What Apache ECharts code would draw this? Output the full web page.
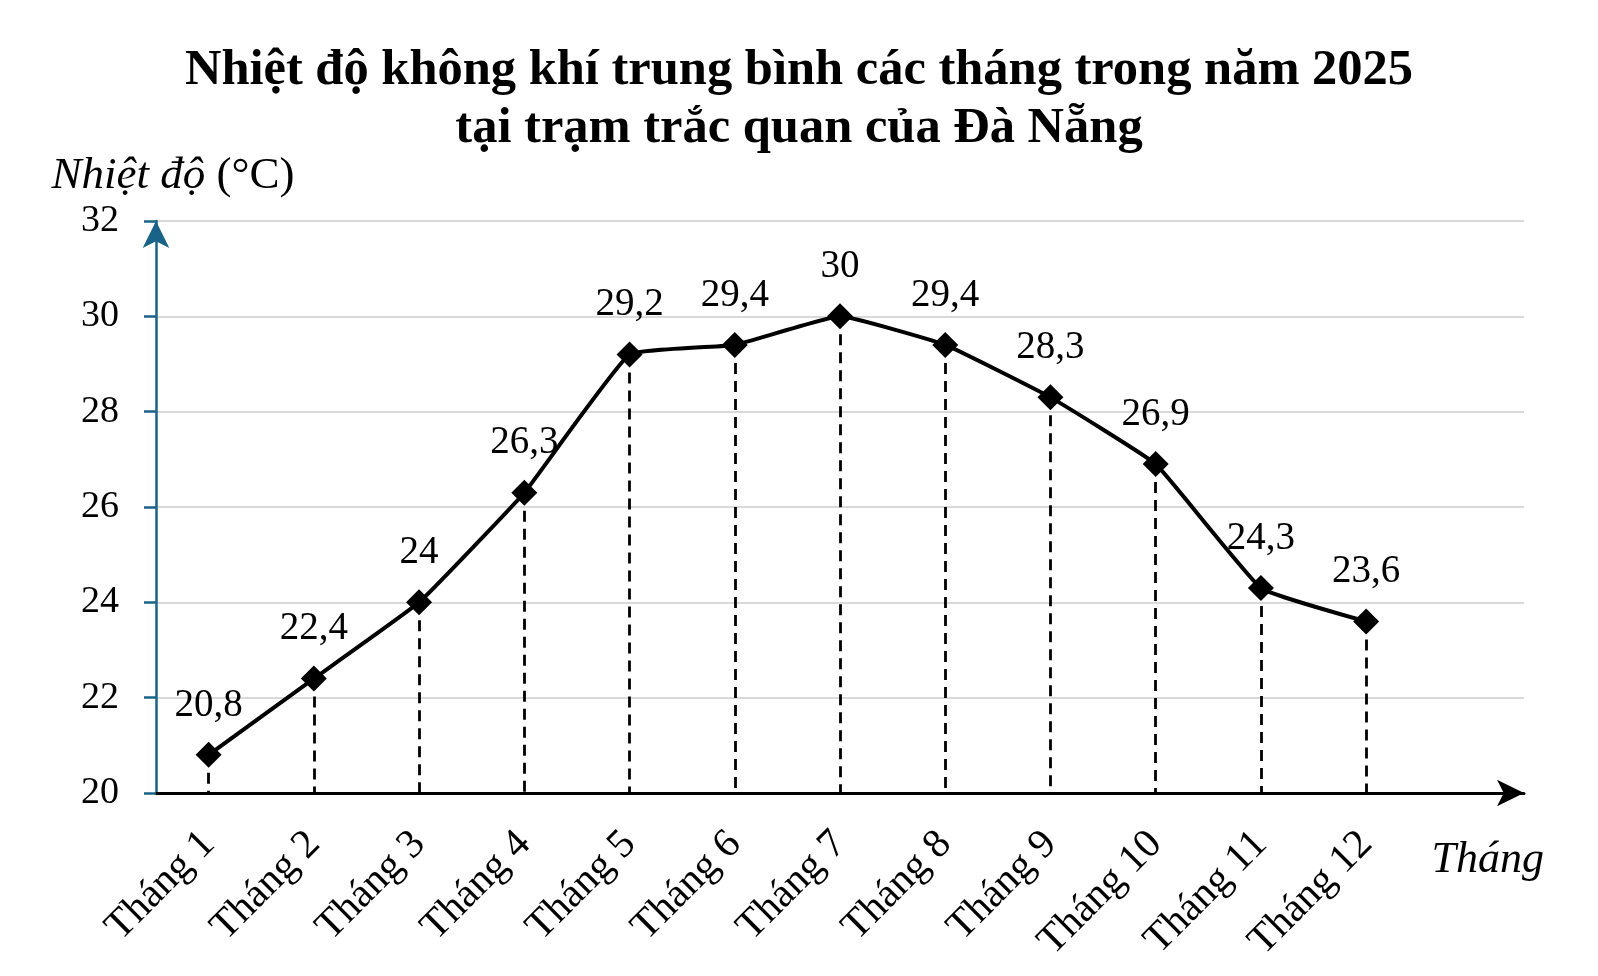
<!DOCTYPE html>
<html><head><meta charset="utf-8">
<script src="https://cdn.jsdelivr.net/npm/echarts@6/dist/echarts.min.js"></script>
<style>html,body{margin:0;padding:0;background:#fff}#c{width:1598px;height:976px}</style>
</head><body><div id="c"></div>
<script>
const months = ['Tháng 1','Tháng 2','Tháng 3','Tháng 4','Tháng 5','Tháng 6','Tháng 7','Tháng 8','Tháng 9','Tháng 10','Tháng 11','Tháng 12'];
const temps = [20.8, 22.4, 24, 26.3, 29.2, 29.4, 30, 29.4, 28.3, 26.9, 24.3, 23.6];
const yMin = 20, yMax = 32, yStep = 2;
const titleLines = ['Nhiệt độ không khí trung bình các tháng trong năm 2025', 'tại trạm trắc quan của Đà Nẵng'];

const FONT = '"Liberation Serif","Times New Roman",serif';
const axisCats = months.concat(['']);
const chart = echarts.init(document.getElementById('c'));
chart.setOption({
  animation: false,
  backgroundColor: '#fff',
  title: {
    text: titleLines.join('\n'),
    left: 'center', top: 37,
    textStyle: { fontFamily: FONT, fontWeight: 'bold', fontSize: 50.5, lineHeight: 58, color: '#000' }
  },
  grid: { left: 156, right: 74, top: 221, bottom: 183 },
  xAxis: {
    type: 'category', data: axisCats, boundaryGap: true,
    axisLine: { show: true, lineStyle: { color: '#000', width: 3 }, symbol: ['none', 'arrow'], symbolSize: [20, 27], symbolOffset: [0, 0] },
    axisTick: { show: false },
    axisLabel: { rotate: 45, margin: 45, fontFamily: FONT, fontSize: 41, color: '#000', interval: 0 },
    splitLine: { show: false },
    name: 'Tháng', nameLocation: 'end', nameGap: 20, nameMoveOverlap: false,
    nameTextStyle: { fontFamily: FONT, fontStyle: 'italic', fontSize: 44, color: '#000', align: 'right', verticalAlign: 'top', padding: [45, 0, 0, 0] }
  },
  yAxis: {
    type: 'value', min: yMin, max: yMax, interval: yStep,
    axisLine: { show: true, lineStyle: { color: '#1a6388', width: 2.5 }, symbol: ['none', 'arrow'], symbolSize: [20, 27], symbolOffset: [0, 0] },
    axisTick: { show: true, length: 12, lineStyle: { color: '#1a6388', width: 2.5 } },
    axisLabel: { margin: 37, fontFamily: FONT, fontSize: 38, color: '#000' },
    splitLine: { show: true, lineStyle: { color: '#d9d9d9', width: 2 } },
    name: '{i|Nhiệt độ}{n| (°C)}', nameLocation: 'end', nameGap: 22, nameMoveOverlap: false,
    nameTextStyle: {
      align: 'center', padding: [0, 0, 0, 34],
      rich: {
        i: { fontFamily: FONT, fontStyle: 'italic', fontSize: 45, color: '#000' },
        n: { fontFamily: FONT, fontSize: 45, color: '#000' }
      }
    }
  },
  series: [{
    type: 'line', data: temps, smooth: 0.1,
    lineStyle: { color: '#000', width: 4 },
    itemStyle: { color: '#000' },
    symbol: 'diamond', symbolSize: 26, showAllSymbol: true,
    label: { show: true, position: 'top', distance: 17, fontFamily: FONT, fontSize: 39, color: '#000',
      formatter: p => String(p.value).replace('.', ',') },
    markLine: {
      silent: true, symbol: ['none', 'none'], animation: false,
      label: { show: false },
      lineStyle: { color: '#000', width: 2.8, type: [11, 7] },
      data: temps.map((v, i) => [{ coord: [i, v] }, { coord: [i, yMin] }])
    },
    z: 3
  }]
});
</script></body></html>
